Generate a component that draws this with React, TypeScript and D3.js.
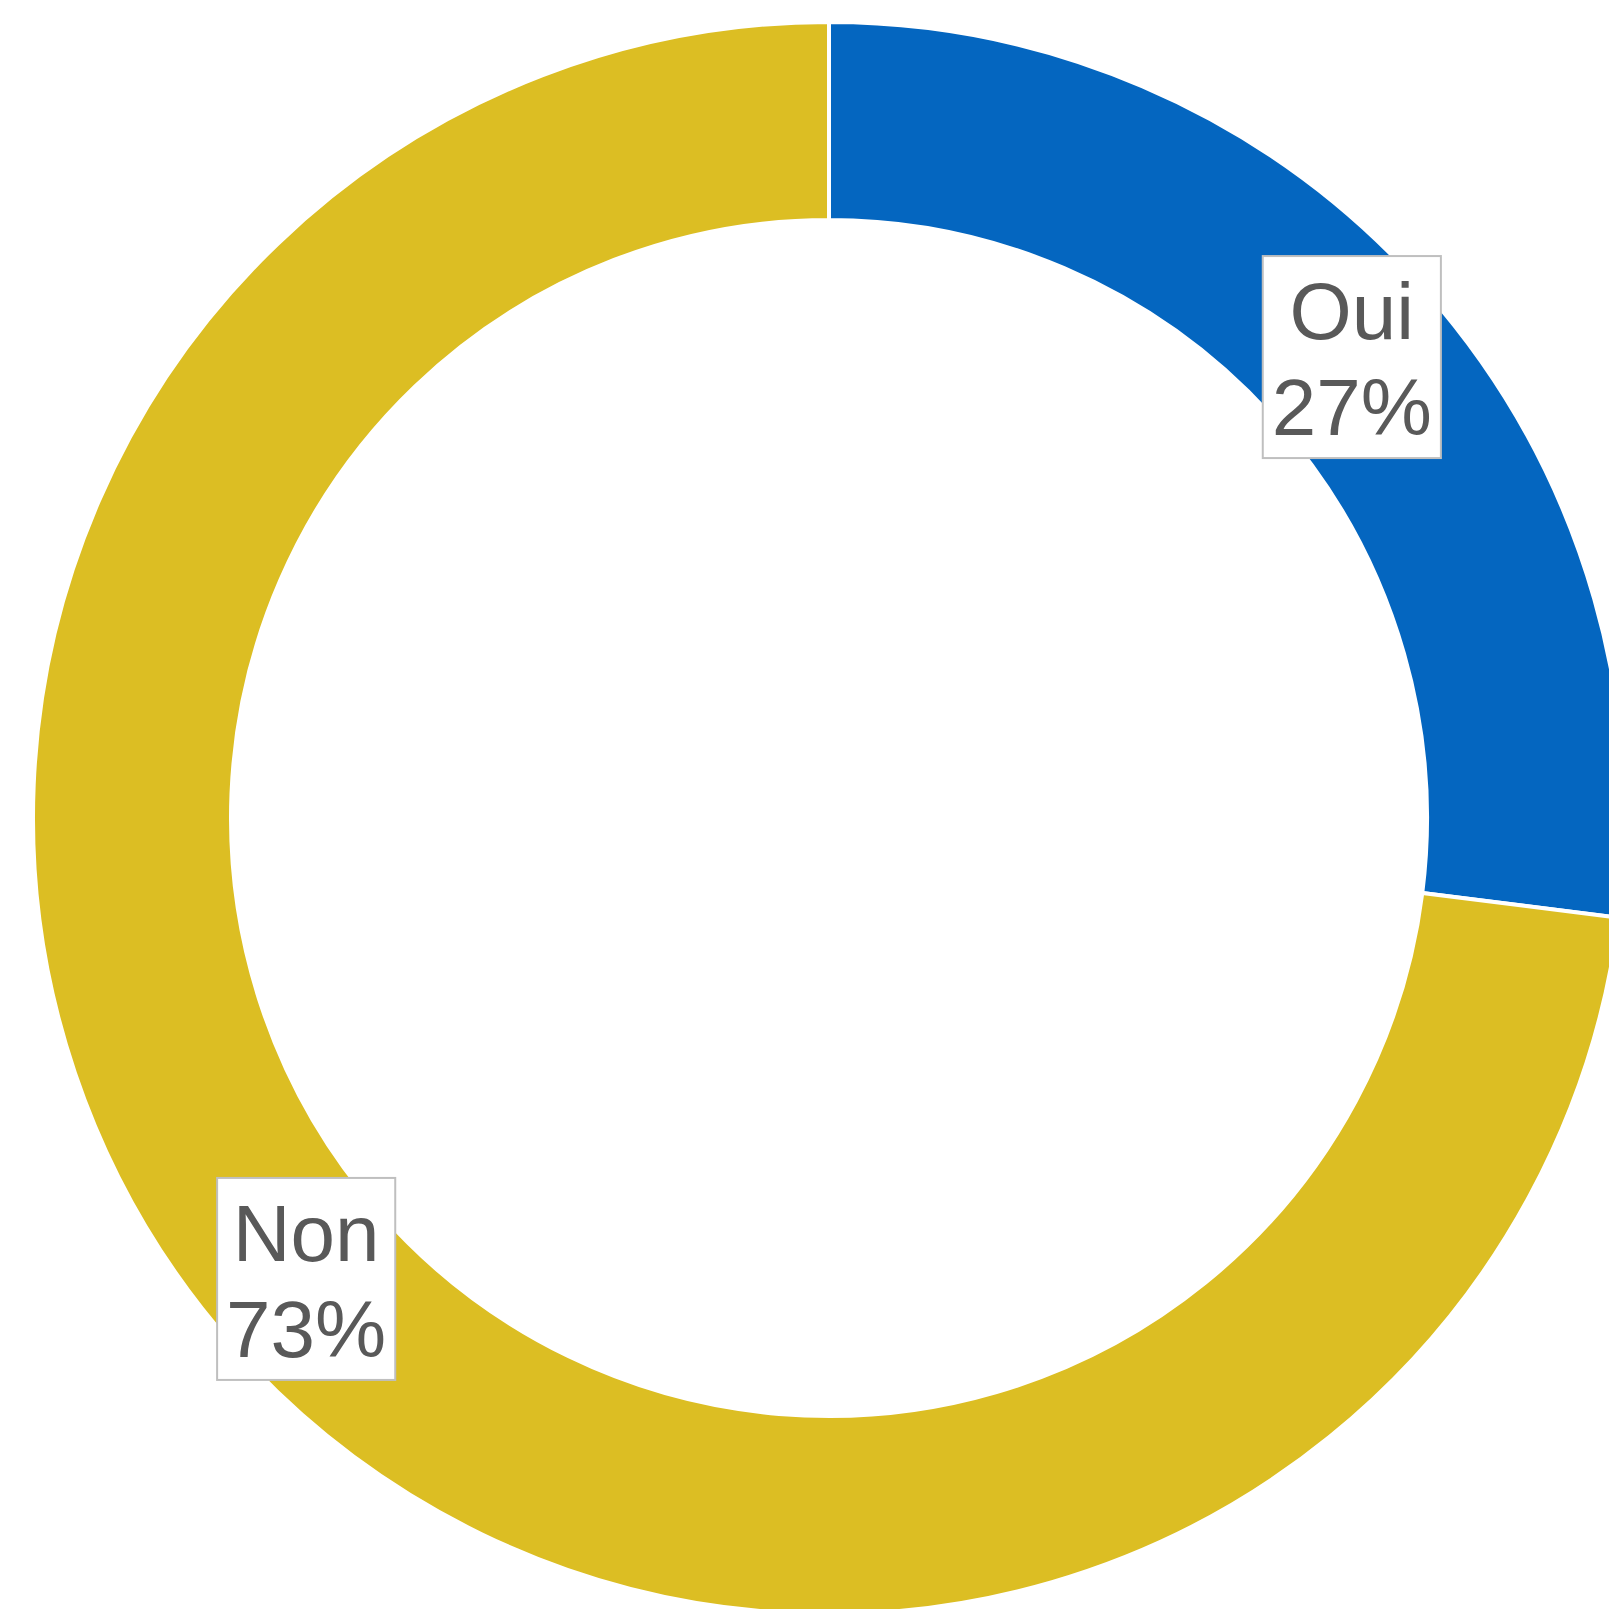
import React, { useEffect, useRef } from "react";
import * as d3 from "d3";

const categories = ["Oui", "Non"];
const values = [27, 73];
const colors = ["#0466C0", "#DCBE23"];

const App = () => {
  const svgRef = useRef<SVGSVGElement | null>(null);

  useEffect(() => {
    const width = 1609;
    const height = 1609;
    const cx = 829;
    const cy = 818;
    const outerRadius = 796;
    const innerRadius = 598;

    const svg = d3
      .select(svgRef.current)
      .attr("viewBox", [0, 0, width, height])
      .attr("width", width)
      .attr("height", height);

    svg.selectAll("*").remove();

    const data = categories.map((c, i) => ({ name: c, value: values[i] }));
    const total = d3.sum(values);

    const pie = d3
      .pie<{ name: string; value: number }>()
      .sort(null)
      .value((d) => d.value);

    const arc = d3
      .arc<d3.PieArcDatum<{ name: string; value: number }>>()
      .innerRadius(innerRadius)
      .outerRadius(outerRadius);

    const g = svg.append("g").attr("transform", `translate(${cx},${cy})`);

    const arcs = pie(data);

    g.selectAll("path")
      .data(arcs)
      .join("path")
      .attr("d", arc)
      .attr("fill", (_, i) => colors[i])
      .attr("stroke", "#ffffff")
      .attr("stroke-width", 4)
      .attr("stroke-linejoin", "round");

    // labels in boxes at the arc centroid
    const labelArc = d3
      .arc<d3.PieArcDatum<{ name: string; value: number }>>()
      .innerRadius((innerRadius + outerRadius) / 2)
      .outerRadius((innerRadius + outerRadius) / 2);

    arcs.forEach((d) => {
      const [lx, ly] = labelArc.centroid(d);
      const lg = g.append("g").attr("transform", `translate(${lx},${ly})`);
      const rect = lg
        .append("rect")
        .attr("fill", "#ffffff")
        .attr("stroke", "#bfbfbf")
        .attr("stroke-width", 2);
      const text = lg
        .append("text")
        .attr("text-anchor", "middle")
        .attr("fill", "#595959")
        .style("font-family", "'Liberation Sans', Arial, sans-serif")
        .style("font-size", "80px");
      text
        .append("tspan")
        .attr("x", 0)
        .attr("y", -18)
        .text(d.data.name);
      text
        .append("tspan")
        .attr("x", 0)
        .attr("y", 78)
        .text(`${Math.round((d.data.value / total) * 100)}%`);

      const bb = (text.node() as SVGTextElement).getBBox();
      const padX = 9;
      rect
        .attr("x", bb.x - padX)
        .attr("y", bb.y - 11)
        .attr("width", bb.width + padX * 2)
        .attr("height", bb.height + 17);
    });
  }, []);

  return (
    <div style={{ position: "absolute", left: 0, top: 0 }}>
      <svg ref={svgRef} style={{ display: "block" }}></svg>
    </div>
  );
};

export default App;
